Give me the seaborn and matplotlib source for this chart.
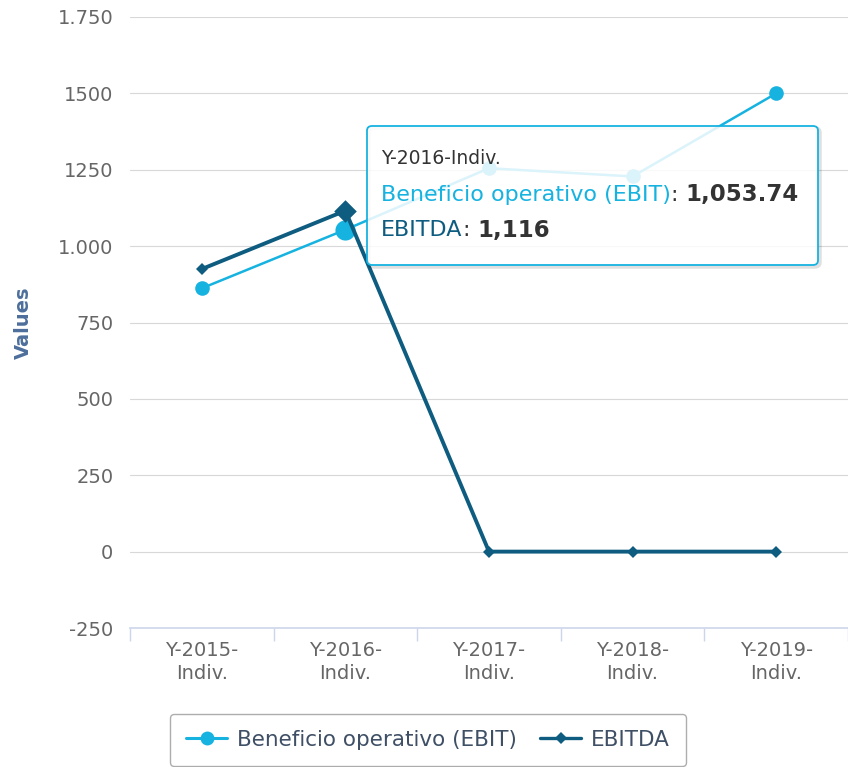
import numpy as np
import pandas as pd
import matplotlib
matplotlib.use("Agg")
import matplotlib.pyplot as plt
from matplotlib.patches import FancyBboxPatch
from matplotlib.lines import Line2D
import seaborn as sns

# ---- data ----
categories = ["Y-2015-\nIndiv.", "Y-2016-\nIndiv.", "Y-2017-\nIndiv.", "Y-2018-\nIndiv.", "Y-2019-\nIndiv."]
ebit = [862, 1053.74, 1255, 1228, 1500]
ebitda = [925, 1116, 0, 0, 0]
series_names = ["Beneficio operativo (EBIT)", "EBITDA"]
yticks = [-250, 0, 250, 500, 750, 1000, 1250, 1500, 1750]
ytick_labels = ["-250", "0", "250", "500", "750", "1.000", "1250", "1500", "1.750"]
hover_index = 1
tooltip_title = "Y-2016-Indiv."
tooltip_values = ["1,053.74", "1,116"]

C_EBIT = "#16b2e0"
C_EBITDA = "#0e5c80"

sns.set_theme(style="white")
plt.rcParams["font.family"] = ["DejaVu Sans"]

W, H = 848, 767
fig = plt.figure(figsize=(W / 100, H / 100), dpi=100)
ax = fig.add_axes([130 / W, (H - 628) / H, 1 - 130 / W, (628 - 17) / H])

x = np.arange(len(categories))
df = pd.DataFrame({"x": x, "ebit": ebit, "ebitda": ebitda})

sns.lineplot(data=df, x="x", y="ebit", ax=ax, color=C_EBIT, lw=1.8, marker="o",
             markersize=10.5, markeredgewidth=0, label=series_names[0], zorder=3)
sns.lineplot(data=df, x="x", y="ebitda", ax=ax, color=C_EBITDA, lw=2.8, marker="D",
             markersize=6.3, markeredgewidth=0, label=series_names[1], zorder=4)
# hover state markers
ax.scatter([x[hover_index]], [ebit[hover_index]], s=14.5 ** 2, color=C_EBIT, zorder=3.5, linewidths=0)
ax.scatter([x[hover_index]], [ebitda[hover_index]], s=11.5 ** 2, marker="D", color=C_EBITDA, zorder=4.5, linewidths=0)

ax.get_legend().remove()

ax.set_xlim(-0.5, 4.45)
ax.set_ylim(-250, 1750)
ax.set_yticks(yticks)
ax.set_yticklabels(ytick_labels)
ax.set_xticks(x)
ax.set_xticklabels(categories)
ax.set_xticks(np.arange(-0.5, 5.0, 1.0), minor=True)
ax.tick_params(axis="x", which="major", length=0, pad=9, labelsize=14, labelcolor="#666666")
ax.tick_params(axis="x", which="minor", length=9, width=1, color="#ccd6eb", direction="out", bottom=True)
ax.tick_params(axis="y", length=0, pad=12, labelsize=14, labelcolor="#666666")
for lbl in ax.get_xticklabels():
    lbl.set_linespacing(1.3)

ax.grid(axis="y", color="#d8d8d8", lw=0.8)
ax.grid(axis="x", visible=False)
for s in ["top", "right", "left"]:
    ax.spines[s].set_visible(False)
ax.spines["bottom"].set_color("#ccd6eb")
ax.spines["bottom"].set_linewidth(1.2)
ax.set_xlabel("")
ax.set_ylabel("Values", fontsize=14, fontweight="bold", color="#4d6e9b", labelpad=18)

# ---- tooltip ----
bx0, bx1 = 367 / W, 818 / W
by0, by1 = (H - 265) / H, (H - 126) / H
shadow = FancyBboxPatch((bx0 + 2 / W, by0 - 2 / H), bx1 - bx0, by1 - by0,
                        boxstyle="round,pad=0,rounding_size=0.006",
                        transform=fig.transFigure, facecolor="none", alpha=0.12,
                        edgecolor="#000000", lw=2.5, zorder=9, clip_on=False)
ax.add_patch(shadow)
box = FancyBboxPatch((bx0, by0), bx1 - bx0, by1 - by0,
                     boxstyle="round,pad=0,rounding_size=0.006",
                     transform=fig.transFigure, facecolor=(1, 1, 1, 0.85),
                     edgecolor=C_EBIT, lw=1.3, zorder=10, clip_on=False)
ax.add_patch(box)

fig.canvas.draw()
renderer = fig.canvas.get_renderer()


def seg_text(x0, y, parts):
    xc = x0
    for txt, col, wt, fs in parts:
        t = fig.text(xc, y, txt, color=col, fontweight=wt, fontsize=fs, va="center", ha="left",
                     zorder=11)
        bb = t.get_window_extent(renderer=renderer)
        xc = xc + bb.width / W


tx = 381 / W
fig.text(tx, (H - 158) / H, tooltip_title, fontsize=13.5, color="#333333", va="center", zorder=11)
seg_text(tx, (H - 195) / H, [(series_names[0], C_EBIT, "normal", 16),
                             (": ", "#333333", "normal", 16),
                             (tooltip_values[0], "#333333", "bold", 16.5)])
seg_text(tx, (H - 230) / H, [(series_names[1], C_EBITDA, "normal", 16),
                             (": ", "#333333", "normal", 16),
                             (tooltip_values[1], "#333333", "bold", 16.5)])

# ---- legend ----
handles = [Line2D([], [], color=C_EBIT, lw=2.2, marker="o", markersize=10, markeredgewidth=0),
           Line2D([], [], color=C_EBITDA, lw=2.4, marker="D", markersize=6.5, markeredgewidth=0)]
leg = fig.legend(handles, series_names, loc="center", bbox_to_anchor=(428 / W, (H - 740) / H),
                 ncol=2, frameon=True, fancybox=True, edgecolor="#999999", fontsize=15.5,
                 handlelength=1.9, handletextpad=0.45, columnspacing=1.1, borderpad=0.75)
for t in leg.get_texts():
    t.set_color("#3e4f66")
leg.get_frame().set_linewidth(1.0)

fig.savefig("out.png", dpi=100)
